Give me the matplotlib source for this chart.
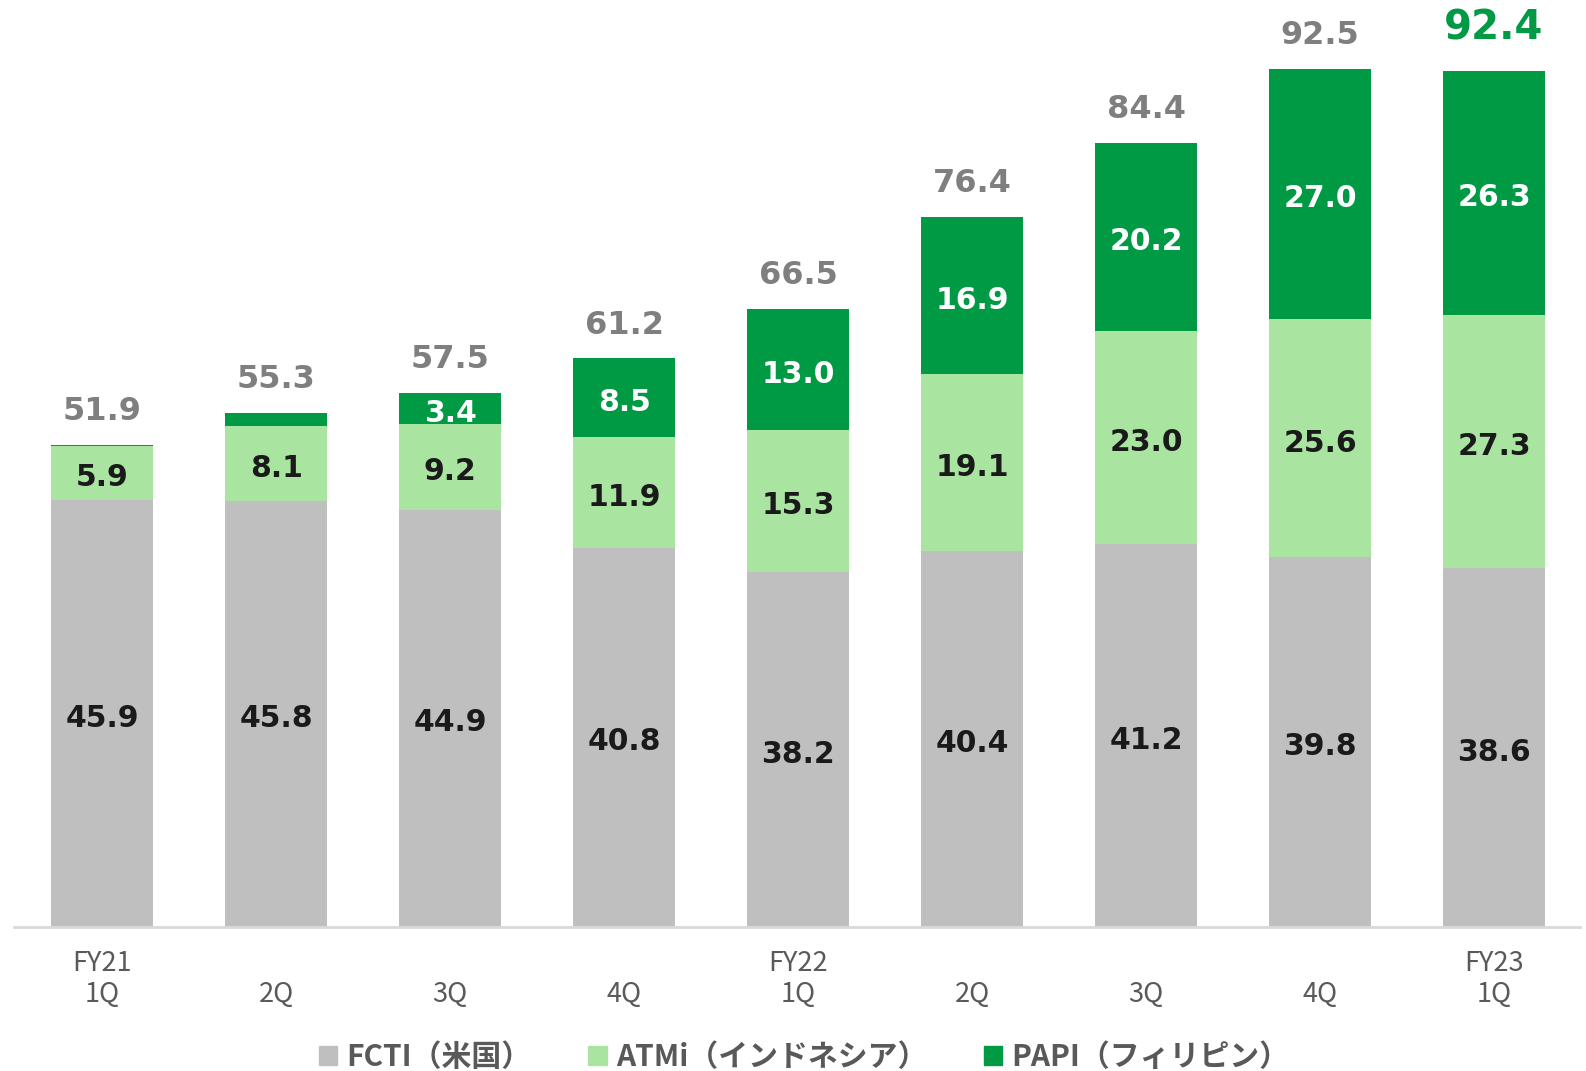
import matplotlib
matplotlib.use("Agg")
import matplotlib.pyplot as plt
from matplotlib.patches import Patch
import numpy as np

categories = ["FY21\n1Q", "\n2Q", "\n3Q", "\n4Q", "FY22\n1Q", "\n2Q", "\n3Q", "\n4Q", "FY23\n1Q"]
fcti = [45.9, 45.8, 44.9, 40.8, 38.2, 40.4, 41.2, 39.8, 38.6]
atmi = [5.9, 8.1, 9.2, 11.9, 15.3, 19.1, 23.0, 25.6, 27.3]
papi = [0.1, 1.4, 3.4, 8.5, 13.0, 16.9, 20.2, 27.0, 26.3]
totals = [51.9, 55.3, 57.5, 61.2, 66.5, 76.4, 84.4, 92.5, 92.4]
series_names = ["FCTI（米国）", "ATMi（インドネシア）", "PAPI（フィリピン）"]

C_GRAY = "#BFBFBF"
C_LIGHT = "#A9E5A0"
C_DARK = "#009944"

W, H = 1586, 1071
fig = plt.figure(figsize=(W / 100, H / 100), dpi=100)
ax = fig.add_axes([14 / W, (H - 926.5) / H, (1580 - 14) / W, 926.5 / H])

x = np.arange(len(categories))
bw = 0.587
fcti_a = np.array(fcti)
atmi_a = np.array(atmi)
papi_a = np.array(papi)

ax.bar(x, fcti_a, bw, color=C_GRAY, zorder=2)
ax.bar(x, atmi_a, bw, bottom=fcti_a, color=C_LIGHT, zorder=2)
ax.bar(x, papi_a, bw, bottom=fcti_a + atmi_a, color=C_DARK, zorder=2)

ax.set_xlim(-0.507, 8.494)
ax.set_ylim(0, 926.5 / 9.283)

lab_font = dict(family=["DejaVu Sans"], fontweight="bold", fontsize=21.5)
dy = -3.5
for i in range(len(x)):
    ax.annotate(f"{fcti[i]:.1f}", (x[i], fcti[i] / 2), xytext=(0, dy), textcoords="offset points",
                ha="center", va="center", color="#1a1a1a", **lab_font)
    ax.annotate(f"{atmi[i]:.1f}", (x[i], fcti[i] + atmi[i] / 2), xytext=(0, dy), textcoords="offset points",
                ha="center", va="center", color="#1a1a1a", **lab_font)
    if papi[i] >= 3:
        ax.annotate(f"{papi[i]:.1f}", (x[i], fcti[i] + atmi[i] + papi[i] / 2), xytext=(0, dy),
                    textcoords="offset points", ha="center", va="center", color="white", **lab_font)
    top = fcti[i] + atmi[i] + papi[i]
    if i == len(x) - 1:
        ax.annotate(f"{totals[i]:.1f}", (x[i], top), xytext=(0, 30), textcoords="offset points",
                    ha="center", va="center", color=C_DARK, family=["DejaVu Sans"],
                    fontweight="bold", fontsize=29)
    else:
        ax.annotate(f"{totals[i]:.1f}", (x[i], top), xytext=(0, 24), textcoords="offset points",
                    ha="center", va="center", color="#7F7F7F", family=["DejaVu Sans"],
                    fontweight="bold", fontsize=23)

for s in ["top", "right", "left"]:
    ax.spines[s].set_visible(False)
ax.spines["bottom"].set_color("#D9D9D9")
ax.spines["bottom"].set_linewidth(2)
ax.set_yticks([])
ax.set_xticks(x, labels=categories)
ax.tick_params(axis="x", length=0, pad=17, labelsize=19.5, labelcolor="#595959")
for t in ax.get_xticklabels():
    t.set_family(["Noto Sans CJK JP", "DejaVu Sans"])
    t.set_linespacing(1.2)

handles = [Patch(color=C_GRAY), Patch(color=C_LIGHT), Patch(color=C_DARK)]
fig.legend(handles, series_names, loc="center", bbox_to_anchor=(0.507, 0.013), ncol=3,
           frameon=False, handlelength=0.62, handleheight=0.62, handletextpad=0.3,
           columnspacing=1.9,
           prop=dict(family=["Noto Sans CJK JP"], weight="bold", size=21.5), labelcolor="#595959")

fig.savefig("out.png", dpi=100)
